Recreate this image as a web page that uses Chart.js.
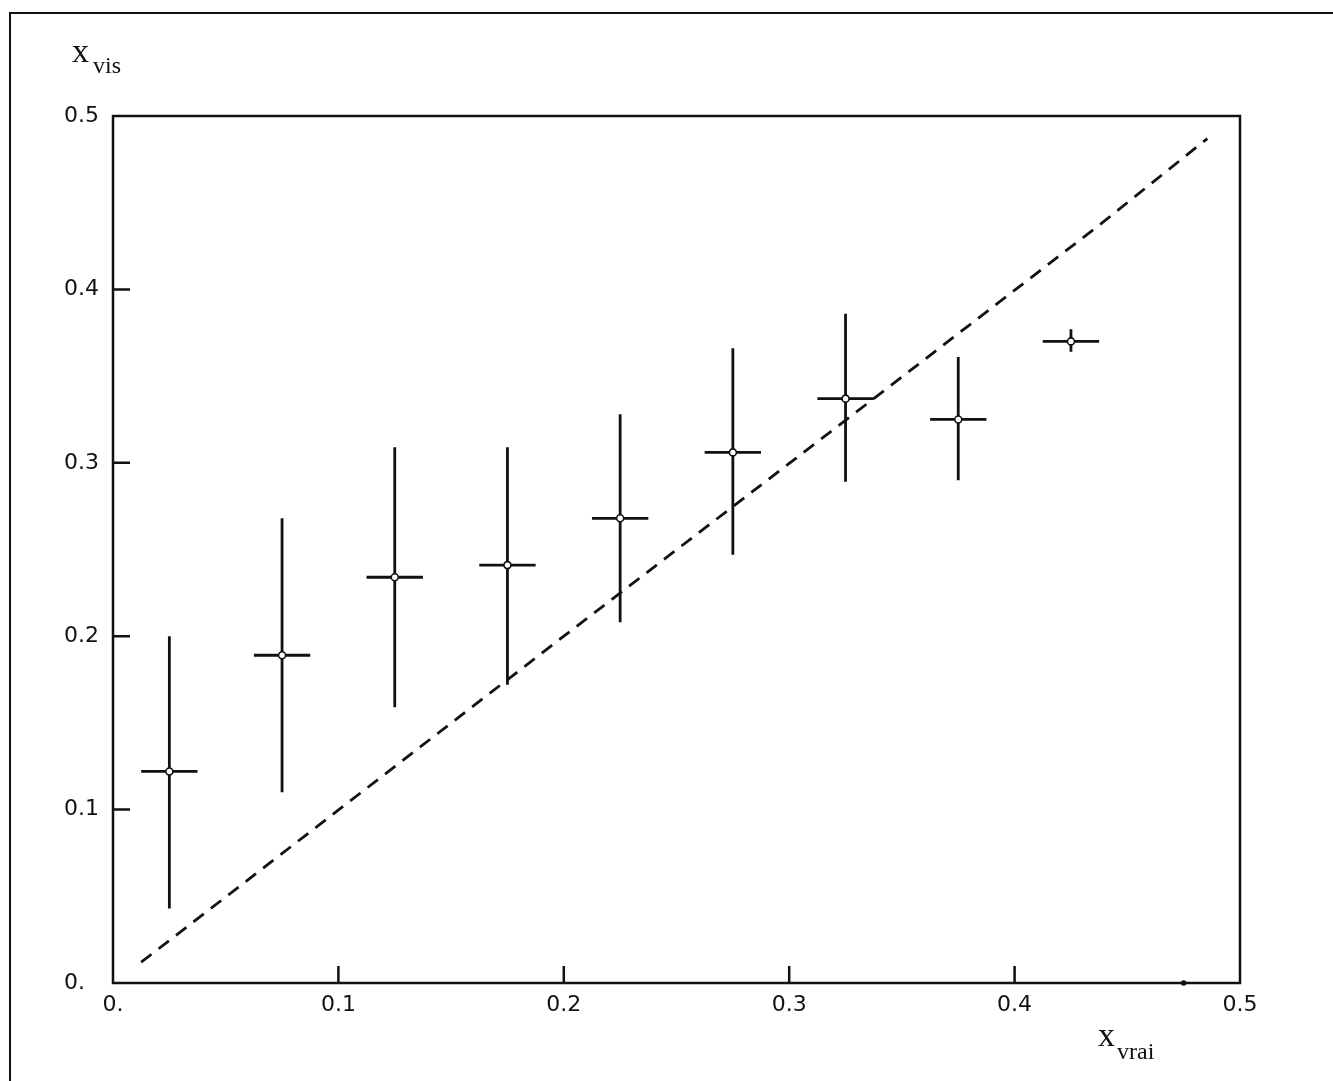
<!DOCTYPE html>
<html>
<head>
<meta charset="utf-8">
<script src="https://cdn.jsdelivr.net/npm/chart.js@4.4.0/dist/chart.umd.min.js"></script>
<style>
  html, body { margin: 0; padding: 0; background: #fff; }
  #wrap { width: 1333px; height: 1081px; position: relative; }
</style>
</head>
<body>
<div id="wrap"><canvas id="chart" width="1333" height="1081"></canvas></div>
<script>
// Données
const binCenters = [0.025, 0.075, 0.125, 0.175, 0.225, 0.275, 0.325, 0.375, 0.425];
const xVis = [0.122, 0.189, 0.234, 0.241, 0.268, 0.306, 0.337, 0.325, 0.370];
const xVisLow = [0.043, 0.110, 0.159, 0.172, 0.208, 0.247, 0.289, 0.290, 0.364];
const xVisHigh = [0.200, 0.268, 0.309, 0.309, 0.328, 0.366, 0.386, 0.361, 0.377];
const binHalfWidth = [0.0125, 0.0125, 0.0125, 0.0125, 0.0125, 0.0125, 0.0125, 0.0125, 0.0125];

// Bin vide (point sur l'axe)
const emptyBinX = [0.475];
const emptyBinY = [0.0];

// Diagonale en tirets
const diagX = [0.0125, 0.2, 0.3375, 0.4375, 0.4855];
const diagY = [0.012, 0.2, 0.337, 0.437, 0.487];

// Graduations
const xTickLabels = ['0.', '0.1', '0.2', '0.3', '0.4', '0.5'];
const yTickLabels = ['0.', '0.1', '0.2', '0.3', '0.4', '0.5'];
const innerTicks = [0.1, 0.2, 0.3, 0.4];

// Construction des séries pour Chart.js
const vertBars = [];
const horizBars = [];
binCenters.forEach((x, i) => {
    vertBars.push({ x: x, y: xVisLow[i] }, { x: x, y: xVisHigh[i] }, { x: x, y: null });
    horizBars.push({ x: x - binHalfWidth[i], y: xVis[i] }, { x: x + binHalfWidth[i], y: xVis[i] }, { x: x, y: null });
});
const markers = binCenters.map((x, i) => ({ x: x, y: xVis[i] }));
const diagonal = diagX.map((x, i) => ({ x: x, y: diagY[i] }));
const emptyBins = emptyBinX.map((x, i) => ({ x: x, y: emptyBinY[i] }));

const INK = '#111';
const tickFont = { family: 'DejaVu Sans', size: 22 };

// Cadre, graduations intérieures et titres des axes
const framePlugin = {
    id: 'frame',
    afterDraw(chart) {
        const ctx = chart.ctx;
        const { left, top, right, bottom } = chart.chartArea;
        const sx = chart.scales.x, sy = chart.scales.y;
        ctx.save();
        ctx.strokeStyle = INK;
        ctx.lineWidth = 2.5;
        ctx.strokeRect(left, top, right - left, bottom - top);

        ctx.beginPath();
        innerTicks.forEach(v => {
            const py = sy.getPixelForValue(v);
            ctx.moveTo(left, py);
            ctx.lineTo(left + 17, py);
            const px = sx.getPixelForValue(v);
            ctx.moveTo(px, bottom);
            ctx.lineTo(px, bottom - 17);
        });
        ctx.stroke();

        // cadre extérieur de la page
        ctx.lineWidth = 2;
        ctx.beginPath();
        ctx.moveTo(10, chart.height);
        ctx.lineTo(10, 13);
        ctx.lineTo(chart.width, 13);
        ctx.stroke();

        // titres
        ctx.fillStyle = INK;
        ctx.textBaseline = 'alphabetic';
        ctx.textAlign = 'left';
        ctx.font = '34px "Liberation Serif"';
        ctx.fillText('x', 72, 62);
        ctx.font = '24px "Liberation Serif"';
        ctx.fillText('vis', 93, 73);

        ctx.font = '34px "Liberation Serif"';
        ctx.fillText('x', 1098, 1046);
        ctx.font = '24px "Liberation Serif"';
        ctx.fillText('vrai', 1117, 1059);
        ctx.restore();
    }
};

new Chart(document.getElementById('chart'), {
    type: 'scatter',
    data: {
        datasets: [
            {
                data: diagonal,
                showLine: true,
                borderColor: INK,
                borderWidth: 2.8,
                borderDash: [13, 9],
                pointRadius: 0,
                tension: 0,
                order: 3
            },
            {
                data: vertBars,
                showLine: true,
                spanGaps: false,
                borderColor: INK,
                borderWidth: 2.8,
                pointRadius: 0,
                order: 2
            },
            {
                data: horizBars,
                showLine: true,
                spanGaps: false,
                borderColor: INK,
                borderWidth: 2.8,
                pointRadius: 0,
                order: 2
            },
            {
                data: markers,
                showLine: false,
                pointRadius: 3.5,
                pointBackgroundColor: '#fff',
                pointBorderColor: INK,
                pointBorderWidth: 1.6,
                order: 0
            },
            {
                data: emptyBins,
                showLine: false,
                clip: false,
                pointRadius: 2.8,
                pointBackgroundColor: INK,
                pointBorderColor: INK,
                pointBorderWidth: 0,
                order: 0
            }
        ]
    },
    options: {
        responsive: false,
        animation: false,
        devicePixelRatio: 1,
        layout: { padding: { left: 64, top: 116, right: 93, bottom: 0 } },
        plugins: {
            legend: { display: false },
            tooltip: { enabled: false }
        },
        scales: {
            x: {
                type: 'linear',
                min: 0,
                max: 0.5,
                afterFit: scale => { scale.height = 98; },
                grid: { display: false, drawTicks: false },
                border: { display: false },
                ticks: {
                    stepSize: 0.1,
                    padding: 9,
                    color: INK,
                    font: tickFont,
                    maxRotation: 0,
                    callback: v => xTickLabels[Math.round(v * 10)]
                }
            },
            y: {
                type: 'linear',
                min: 0,
                max: 0.5,
                afterFit: scale => { scale.width = 49; },
                grid: { display: false, drawTicks: false },
                border: { display: false },
                ticks: {
                    stepSize: 0.1,
                    padding: 9,
                    crossAlign: 'far',
                    color: INK,
                    font: tickFont,
                    callback: v => yTickLabels[Math.round(v * 10)]
                }
            }
        }
    },
    plugins: [framePlugin]
});
</script>
</body>
</html>
